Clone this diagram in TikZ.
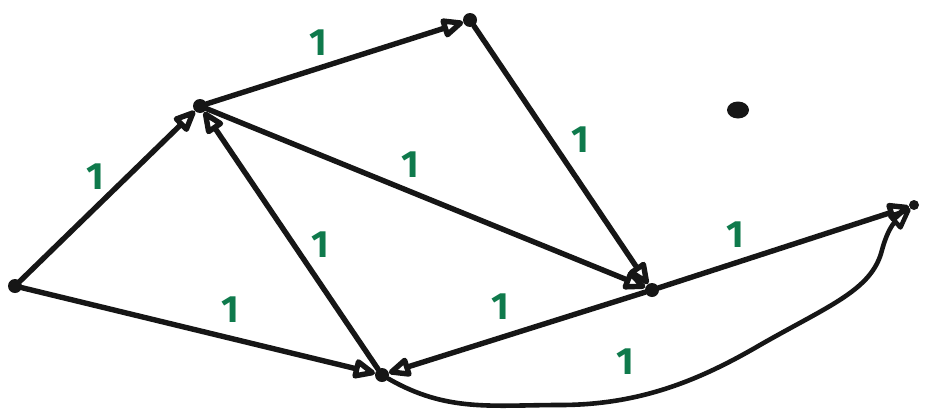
\documentclass[tikz,border=0pt]{standalone}
\usepackage{fontspec}
\setsansfont{Fira Sans}
\usetikzlibrary{arrows.meta,shapes.geometric}
\definecolor{lblgreen}{HTML}{0F7A4C}
\definecolor{ink}{HTML}{161616}
\tikzset{
  vdot/.style={circle,fill=ink,inner sep=0pt,minimum size=14pt},
  edge/.style={draw=ink,line width=5.4pt,line cap=round,line join=round,
    -{Triangle[open,length=26pt,width=21pt,round]},shorten >=0pt},
  lbl/.style={text=lblgreen,font=\sffamily\bfseries\fontsize{38}{38}\selectfont,inner sep=0pt}
}
\begin{document}
\begin{tikzpicture}[x=1pt,y=-1pt]
\useasboundingbox (0,0) rectangle (925,415);
\node[vdot] (A) at (15,286) {};
\node[vdot] (B) at (200,106) {};
\node[vdot] (C) at (470,20) {};
\node[ellipse,fill=ink,inner sep=0pt,minimum width=22pt,minimum height=17pt] (D) at (738,110) {};
\node[vdot] (E) at (652,290) {};
\node[vdot] (F) at (382,375) {};
\node[vdot,minimum size=10pt] (G) at (914,205) {};
\draw[edge] (A) -- (B);
\draw[edge] (A) -- (F);
\draw[edge] (B) -- (C);
\draw[edge] (C) -- (E);
\draw[edge] (B) -- (E);
\draw[edge] (F) -- (B);
\draw[edge] (E) -- (F);
\draw[edge] (E) -- (G);
\draw[edge,line width=4.6pt] (F) to[out=-30,in=180] (560,405)
  .. controls (640,405) and (700,380) .. (760,345)
  .. controls (830,305) and (872,290) .. (882,250)
  .. controls (888,228) and (895,222) .. (G);
\node[lbl] at (95,177) {1};
\node[lbl] at (230,310) {1};
\node[lbl] at (318,43) {1};
\node[lbl] at (580,140) {1};
\node[lbl] at (410,165) {1};
\node[lbl] at (320,245) {1};
\node[lbl] at (500,307) {1};
\node[lbl] at (735,235) {1};
\node[lbl] at (625,362) {1};
\end{tikzpicture}
\end{document}
